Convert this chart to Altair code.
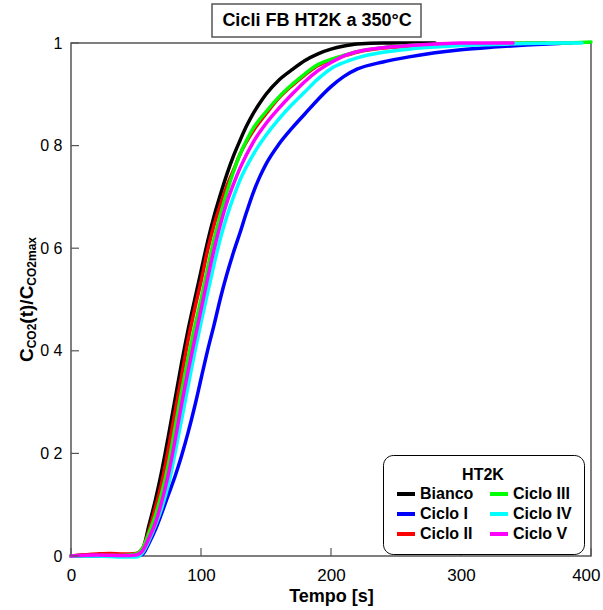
import altair as alt
import pandas as pd

# ---------------- data ----------------
series_names = ["Bianco", "Ciclo I", "Ciclo II", "Ciclo III", "Ciclo IV", "Ciclo V"]
series_colors = ["#000000", "#0000FF", "#FF0000", "#00FF00", "#00FFFF", "#FF00FF"]

t_bianco = [0, 20, 40, 50, 55, 60, 65, 70, 75, 80, 85, 90, 95, 100, 105, 110, 115, 120, 125, 130,
            135, 140, 145, 150, 160, 170, 180, 190, 200, 210, 220, 240, 260, 280]
v_bianco = [0, 0.002, 0.002, 0.003, 0.012, 0.06, 0.11, 0.168, 0.235, 0.305, 0.375, 0.44, 0.498, 0.555,
            0.612, 0.662, 0.705, 0.745, 0.78, 0.81, 0.838, 0.862, 0.882, 0.9, 0.928, 0.948, 0.966,
            0.979, 0.988, 0.994, 0.998, 1.0, 1.0, 1.0]

t_c1 = [0, 20, 40, 50, 55, 60, 65, 70, 75, 80, 85, 90, 95, 100, 105, 110, 115, 120, 125, 130, 135,
        140, 145, 150, 160, 170, 180, 190, 200, 210, 220, 240, 260, 280, 300, 325, 350, 375, 385]
v_c1 = [0, 0, 0, 0, 0.003, 0.025, 0.052, 0.085, 0.12, 0.155, 0.195, 0.24, 0.29, 0.345, 0.4, 0.45,
        0.503, 0.55, 0.592, 0.63, 0.67, 0.707, 0.738, 0.764, 0.803, 0.834, 0.862, 0.89, 0.915, 0.935,
        0.949, 0.963, 0.973, 0.981, 0.987, 0.992, 0.996, 0.999, 1.0]

t_c2 = [0, 20, 30, 40, 50, 55, 60, 65, 70, 75, 80, 85, 90, 95, 100, 105, 110, 115, 120, 125, 130,
        140, 150, 160, 170, 180, 190, 200, 210, 220, 240, 260, 280, 300, 330, 365]
v_c2 = [0, 0.004, 0.005, 0.004, 0.005, 0.015, 0.05, 0.095, 0.145, 0.21, 0.28, 0.35, 0.42, 0.48, 0.535,
        0.595, 0.645, 0.685, 0.722, 0.752, 0.783, 0.828, 0.862, 0.893, 0.917, 0.938, 0.956, 0.967,
        0.975, 0.982, 0.99, 0.994, 0.997, 0.998, 0.999, 1.0]

t_c3 = [0, 20, 40, 50, 55, 60, 65, 70, 75, 80, 85, 90, 95, 100, 105, 110, 115, 120, 125, 130, 135,
        140, 150, 160, 170, 180, 190, 200, 210, 220, 240, 260, 280, 300, 325, 350, 375, 400]
v_c3 = [0, 0.001, 0.001, 0.004, 0.015, 0.045, 0.08, 0.125, 0.18, 0.25, 0.32, 0.385, 0.445, 0.5, 0.56,
        0.617, 0.666, 0.71, 0.749, 0.783, 0.81, 0.833, 0.866, 0.895, 0.919, 0.94, 0.958, 0.968, 0.976,
        0.983, 0.991, 0.995, 0.997, 0.998, 0.999, 1.0, 1.0, 1.002]

t_c4 = [0, 20, 40, 50, 55, 60, 65, 70, 75, 80, 85, 90, 95, 100, 105, 110, 115, 120, 125, 130, 140,
        150, 160, 170, 180, 190, 200, 210, 220, 240, 260, 280, 300, 325, 350, 375, 393]
v_c4 = [0, 0, -0.002, -0.002, 0.006, 0.03, 0.06, 0.095, 0.14, 0.2, 0.265, 0.33, 0.395, 0.455, 0.512,
        0.568, 0.62, 0.663, 0.7, 0.733, 0.782, 0.82, 0.852, 0.88, 0.905, 0.93, 0.95, 0.962, 0.971,
        0.982, 0.988, 0.992, 0.995, 0.997, 0.999, 1.0, 1.0]

t_c5 = [0, 20, 40, 50, 55, 60, 65, 70, 75, 80, 85, 90, 95, 100, 105, 110, 115, 120, 125, 130, 140,
        150, 160, 170, 180, 190, 200, 210, 220, 240, 260, 280, 300, 320, 340]
v_c5 = [0, 0.002, 0.001, 0.002, 0.01, 0.035, 0.065, 0.108, 0.16, 0.225, 0.295, 0.36, 0.42, 0.48, 0.54,
        0.597, 0.647, 0.69, 0.725, 0.756, 0.806, 0.843, 0.873, 0.9, 0.925, 0.946, 0.962, 0.975, 0.983,
        0.991, 0.995, 0.998, 1.0, 1.0, 1.0]

series_t = [t_bianco, t_c1, t_c2, t_c3, t_c4, t_c5]
series_v = [v_bianco, v_c1, v_c2, v_c3, v_c4, v_c5]

x_ticks = [0, 100, 200, 300, 400]
y_ticks = [0, 0.2, 0.4, 0.6, 0.8, 1.0]

title_text = "Cicli FB HT2K a 350°C"
x_title = "Tempo [s]"
legend_title = "HT2K"

# ---------------- build table ----------------
rows = []
for name, ts, vs in zip(series_names, series_t, series_v):
    for t, v in zip(ts, vs):
        rows.append({"series": name, "t": t, "v": v})
df = pd.DataFrame(rows)

FONT = "Liberation Sans"
W, H = 520, 513

xscale = alt.Scale(domain=[0, 400], nice=False)
yscale = alt.Scale(domain=[0, 1], nice=False, zero=False)

last_x = "datum.value == 400"
xaxis = alt.Axis(values=x_ticks, title=x_title, grid=False, domain=False, ticks=False,
                 labelFont=FONT, labelFontSize=17, labelColor="black", labelPadding=11,
                 labelFlush=False, labelOverlap=False,
                 labelAlign={"condition": {"test": last_x, "value": "right"}, "value": "center"},
                 labelOffset={"condition": {"test": last_x, "value": 9}, "value": 0},
                 titleFont=FONT, titleFontSize=18, titleFontWeight="bold",
                 titleColor="black", titlePadding=4)
yaxis = alt.Axis(values=y_ticks, format=".1~f", labelExpr="replace(datum.label, '.', ' ')",
                 title=None, grid=False, domain=False, ticks=False, labelFlush=False,
                 labelFont=FONT, labelFontSize=16, labelColor="black", labelPadding=9)

lines = alt.Chart(df).mark_line(strokeWidth=3.5, strokeJoin="round", strokeCap="round",
                                interpolate="monotone").encode(
    x=alt.X("t:Q", scale=xscale, axis=xaxis),
    y=alt.Y("v:Q", scale=yscale, axis=yaxis),
    color=alt.Color("series:N", scale=alt.Scale(domain=series_names, range=series_colors),
                    legend=alt.Legend(title=legend_title, orient="none", legendX=312, legendY=412,
                                      columns=2, symbolType="stroke", symbolSize=324,
                                      symbolStrokeWidth=4, labelFont=FONT, labelFontSize=16,
                                      labelFontWeight="bold", labelColor="black", labelOffset=3,
                                      titleFont=FONT, titleFontSize=16, titleFontWeight="bold",
                                      titleColor="black", titleAnchor="middle", titlePadding=0,
                                      strokeColor="black", cornerRadius=10, padding=12,
                                      fillColor="white", columnPadding=8, rowPadding=1,
                                      labelLimit=200)),
)

# inner tick marks
ytick_df = pd.DataFrame({"v": y_ticks})
xtick_df = pd.DataFrame({"t": x_ticks})
ytick_layer = alt.Chart(ytick_df).mark_rule(color="#555555", strokeWidth=1.2).encode(
    y=alt.Y("v:Q", scale=yscale, axis=yaxis), x=alt.value(0), x2=alt.value(8))
xtick_layer = alt.Chart(xtick_df).mark_rule(color="#555555", strokeWidth=1.2).encode(
    x=alt.X("t:Q", scale=xscale, axis=xaxis), y=alt.value(H), y2=alt.value(H - 8))

one = pd.DataFrame({"d": [0]})
title_box = alt.Chart(one).mark_rect(fill="white", stroke="#555555", strokeWidth=1.5).encode(
    x=alt.value(141), x2=alt.value(350), y=alt.value(-39), y2=alt.value(-6))
title_mark = alt.Chart(one).mark_text(text=title_text, font=FONT, fontSize=18, fontWeight="bold",
                                      align="center", baseline="middle", color="black").encode(
    x=alt.value(246), y=alt.value(-22))

# y-axis title with subscripts, built from pieces
arial_bold = {"C": 0.722, "O": 0.778, "2": 0.556, "(": 0.333, "t": 0.333, ")": 0.333, "/": 0.278,
              "m": 0.889, "a": 0.556, "x": 0.556}
pieces = [("C", 19, -38), ("CO2", 12, -35), ("(t)/", 19, -38), ("C", 19, -38), ("CO2max", 12, -35)]
total = sum(sum(arial_bold[c] for c in s) * fs for s, fs, _ in pieces)
cursor = H / 2 + total / 2
ytitle_layers = []
for s, fs, bx in pieces:
    ytitle_layers.append(
        alt.Chart(one).mark_text(text=s, font=FONT, fontSize=fs, fontWeight="bold", angle=270,
                                 align="left", baseline="alphabetic", color="black").encode(
            x=alt.value(bx), y=alt.value(cursor)))
    cursor -= sum(arial_bold[c] for c in s) * fs

chart = alt.layer(lines, ytick_layer, xtick_layer, title_box, title_mark, *ytitle_layers).properties(
    width=W, height=H,
    autosize=alt.AutoSizeParams(type="none"),
    padding={"left": 71, "top": 43, "right": 12, "bottom": 54},
    background="white",
).configure_view(stroke="#555555", strokeWidth=1.5)

chart.save("out.html", embed_options={"renderer": "svg", "actions": False})
